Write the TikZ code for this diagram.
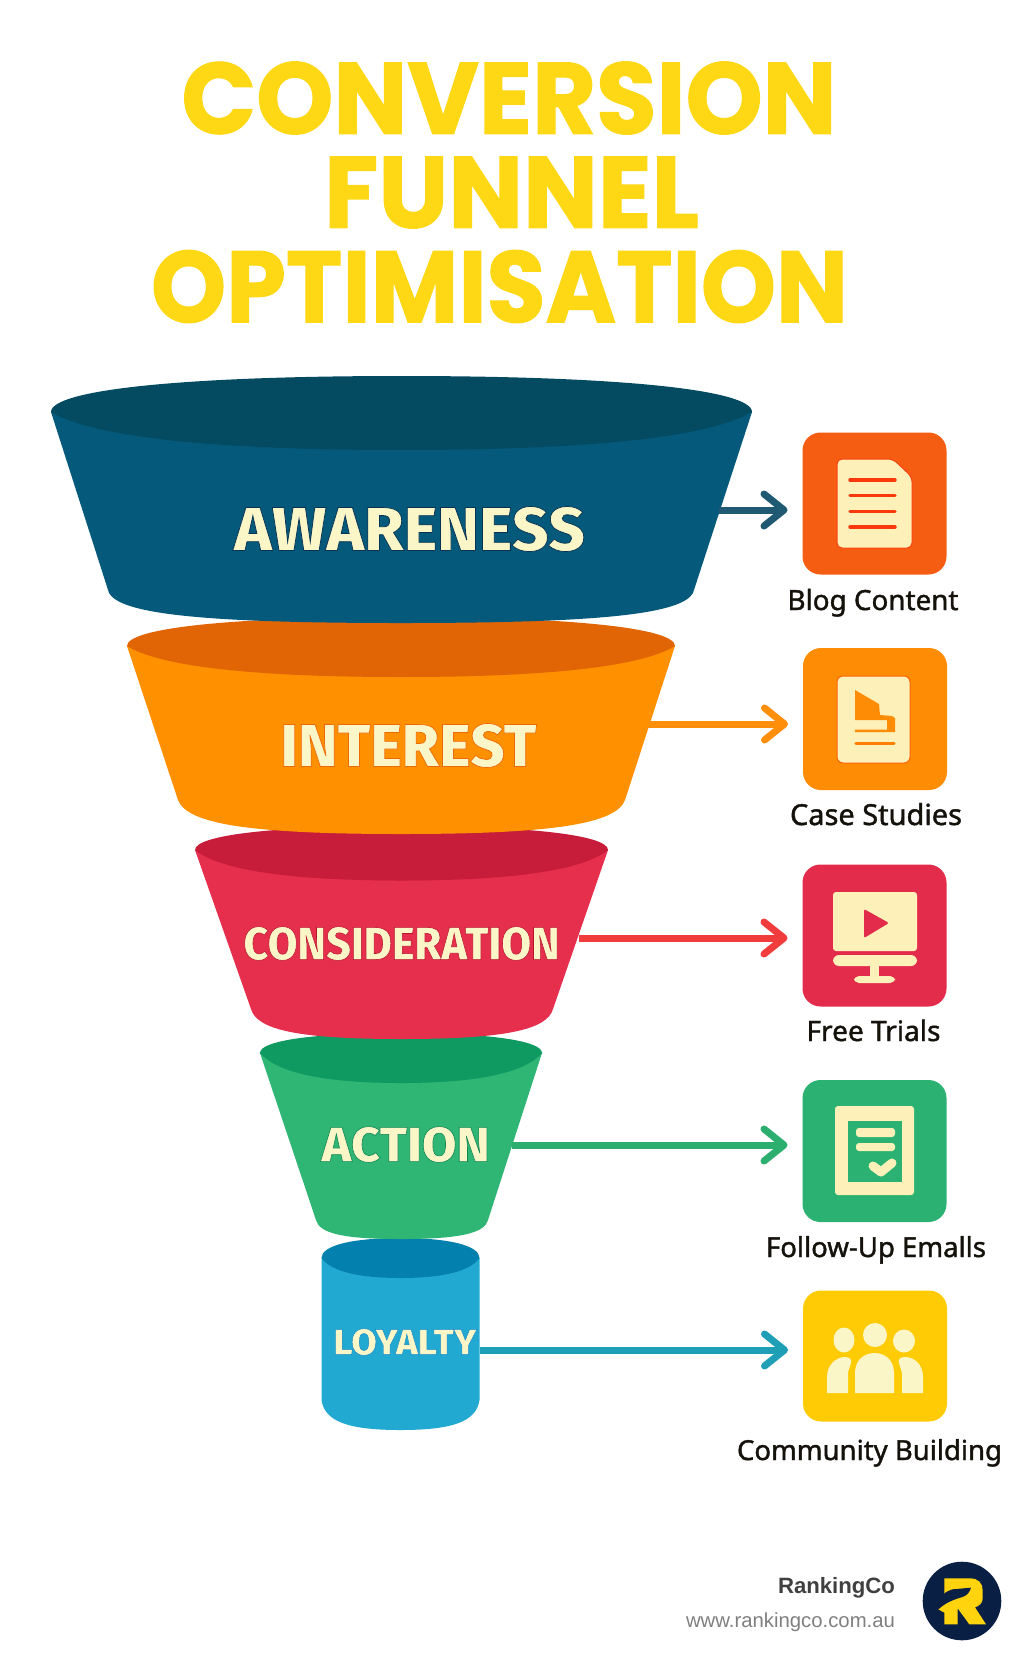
\documentclass[tikz,border=0pt]{standalone}
\usepackage{graphicx}
\usepackage{fontspec}
\usetikzlibrary{arrows.meta}
\newfontfamily\titlef[FakeBold=1.2]{Poppins}
\newfontfamily\labelf[FakeBold=1.2]{Fira Sans ExtraBold}
\newfontfamily\itemf[FakeBold=1.4]{Noto Sans}
\newfontfamily\brandf{Liberation Sans}
\newdimen\pxd \pxd=.5pt
\newcommand\strokergb[1]{\special{pdf:code #1 RG}}
\definecolor{titlec}{HTML}{FFD815}
\definecolor{cream}{HTML}{FDF0B8}
\definecolor{labelc}{HTML}{FBF6C8}
\definecolor{inkc}{HTML}{15120C}
\definecolor{fa}{HTML}{055A7C}\definecolor{fA}{HTML}{044B62}
\definecolor{fb}{HTML}{FF9000}\definecolor{fB}{HTML}{E26505}
\definecolor{fc}{HTML}{E62E4D}\definecolor{fC}{HTML}{C71C3A}
\definecolor{fd}{HTML}{2FB574}\definecolor{fD}{HTML}{0F9A62}
\definecolor{fe}{HTML}{22A9D1}\definecolor{fE}{HTML}{0480AE}
\definecolor{ara}{HTML}{1F5A72}\definecolor{arb}{HTML}{FF8E0A}
\definecolor{arc}{HTML}{F03C3C}\definecolor{ard}{HTML}{2BAE6E}
\definecolor{are}{HTML}{1F9FB5}
\definecolor{boxa}{HTML}{F55D12}\definecolor{boxb}{HTML}{FF8C05}
\definecolor{boxc}{HTML}{E32C4C}\definecolor{boxd}{HTML}{2BB272}
\definecolor{boxe}{HTML}{FFCB05}
\definecolor{navy}{HTML}{0A1F44}\definecolor{logoy}{HTML}{FFD30D}
\definecolor{brandc}{HTML}{404040}\definecolor{urlc}{HTML}{808080}
\newcommand\funnelshape[9]{%
  \pgfmathsetmacro\mx{(#1+#2)/2}\pgfmathsetmacro\W{(#2-#1)/2}
  \pgfmathsetmacro\w{(#7-#6)/2}\pgfmathsetmacro\hb{#9-#8}
  \fill[bodyc] (#1,#3) -- (#6,#8)
    .. controls ({#6+0.04*\w},{#8+0.7*\hb}) and ({\mx-0.68*\w},#9) .. (\mx,#9)
    .. controls ({\mx+0.68*\w},#9) and ({#7-0.04*\w},{#8+0.7*\hb}) .. (#7,#8)
    -- (#2,#3) -- cycle;
  \fill[rimc] (#1,#3)
    .. controls ({#1+0.0*\W},{#3-0.62*(#3-#4)}) and ({\mx-0.62*\W},#4) .. (\mx,#4)
    .. controls ({\mx+0.62*\W},#4) and ({#2-0.0*\W},{#3-0.62*(#3-#4)}) .. (#2,#3)
    .. controls ({#2-0.12*\W},{#3+0.65*(#5-#3)}) and ({\mx+0.55*\W},#5) .. (\mx,#5)
    .. controls ({\mx-0.55*\W},#5) and ({#1+0.12*\W},{#3+0.65*(#5-#3)}) .. (#1,#3) -- cycle;
}
\tikzset{
  txt/.style={inner sep=0pt,outer sep=0pt},
  funnellabel/.style={txt,text=labelc},
  titleline/.style={txt,text=titlec},
  iconbox/.style={inner sep=0pt,outer sep=0pt,rounded corners=9pt,minimum width=72pt,minimum height=71pt},
  itemlabel/.style={txt,anchor=base,text=inkc},
  flow/.style={line width=3.5pt,shorten >=7.5pt,-{Straight Barb[length=10pt,width=16pt,round]}},
  paper/.style={fill=cream},
  rule/.style={line width=1.7pt,line cap=round}
}
\begin{document}
\begin{tikzpicture}[x=.5pt,y=-.5pt]
\useasboundingbox (0,0) rectangle (1024,1666);
\fill[white] (0,0) rectangle (1024,1666);

% title
\node[titleline] (t1) at (509,98) {\resizebox{655\pxd}{72\pxd}{\titlef\bfseries CONVERSION}};
\node[titleline] (t2) at (511.5,192.5) {\resizebox{375\pxd}{71\pxd}{\titlef\bfseries FUNNEL}};
\node[titleline] (t3) at (499.5,286.5) {\resizebox{697\pxd}{72\pxd}{\titlef\bfseries OPTIMISATION}};

% funnels, bottom first
\colorlet{bodyc}{fe}\colorlet{rimc}{fE}\funnelshape{321.5}{479.5}{1258}{1238}{1278}{321.5}{479.5}{1400}{1430}
\colorlet{bodyc}{fd}\colorlet{rimc}{fD}\funnelshape{260}{542}{1053}{1033}{1083}{316}{488}{1220}{1239}
\colorlet{bodyc}{fc}\colorlet{rimc}{fC}\funnelshape{195}{608}{850}{826}{880.5}{251}{553}{1009}{1039}
\colorlet{bodyc}{fb}\colorlet{rimc}{fB}\funnelshape{127}{675}{646}{617}{677}{178}{625}{800}{834}
\colorlet{bodyc}{fa}\colorlet{rimc}{fA}\funnelshape{51}{752}{412}{376}{450}{109}{693}{593}{623}

% funnel labels
\node[funnellabel] (aw) at (409.5,529) {\resizebox{351\pxd}{44\pxd}{\strokergb{0.03 0.20 0.32}\labelf AWARENESS}};
\node[funnellabel] (in) at (408.5,745.5) {\resizebox{256\pxd}{43\pxd}{\strokergb{0.93 0.42 0.02}\labelf INTEREST}};
\node[funnellabel] (co) at (401.5,943.5) {\resizebox{316\pxd}{33\pxd}{\strokergb{0.72 0.08 0.18}\labelf CONSIDERATION}};
\node[funnellabel] (ac) at (405.5,1144.5) {\resizebox{168\pxd}{35\pxd}{\strokergb{0.06 0.52 0.33}\labelf ACTION}};
\node[funnellabel] (lo) at (405,1342) {\resizebox{143\pxd}{26\pxd}{\strokergb{0.06 0.52 0.78}\labelf LOYALTY}};

% icon boxes
\node[iconbox,fill=boxa] (b1) at (874.5,503.5) {};
\node[iconbox,fill=boxb] (b2) at (875,719) {};
\node[iconbox,fill=boxc] (b3) at (874.5,935.5) {};
\node[iconbox,fill=boxd] (b4) at (874.5,1151) {};
\node[iconbox,fill=boxe,minimum height=65.5pt] (b5) at (875,1356) {};

% connectors
\coordinate (s1) at (719,510);
\coordinate (s2) at (648,724);
\coordinate (s3) at (579,938);
\coordinate (s4) at (512,1145);
\coordinate (s5) at (480,1350);
\draw[flow,ara] (s1) -- (s1 -| b1.west);
\draw[flow,arb] (s2) -- (s2 -| b2.west);
\draw[flow,arc] (s3) -- (s3 -| b3.west);
\draw[flow,ard] (s4) -- (s4 -| b4.west);
\draw[flow,are] (s5) -- (s5 -| b5.west);

% icon 1: document
\filldraw[paper,draw=boxa!70!red,line width=.5pt,rounded corners=2.5pt] (837,459) -- (893,459) -- (912,477) -- (912,548) -- (837,548) -- cycle;
\foreach \yy in {480,495.5,511.5,527} \draw[rule,draw=boxa!60!red] (850,\yy) -- (895,\yy);

% icon 2: case study
\filldraw[paper,draw=boxb!70!red,line width=.5pt,rounded corners=3pt] (837,676) rectangle (910,763);
\fill[boxb] (855,690) -- (879,704) -- (880,715) -- (892,716) -- (895,718) -- (895,732) -- (855,732) -- (855,729.5) -- (887,729.5) -- (887,720) -- (855,720) -- cycle;
\draw[rule,draw=boxb!90!red] (856,743.5) -- (894,743.5);

% icon 3: monitor
\fill[paper,rounded corners=1.5pt] (833,892) rectangle (917,951);
\fill[boxc,rounded corners=1pt] (864,909) -- (889,923) -- (864,938) -- cycle;
\fill[paper,rounded corners=3pt] (833,955) rectangle (917,966);
\fill[paper] (870,965) rectangle (878.5,977);
\fill[paper,rounded corners=2.5pt] (854,976) rectangle (895,983);

% icon 4: form
\fill[paper,rounded corners=1.5pt] (835,1106) rectangle (914,1195);
\fill[boxd] (848,1121) rectangle (902,1182);
\fill[paper,rounded corners=1.5pt] (856,1128) rectangle (895,1137);
\fill[paper,rounded corners=1.5pt] (856,1143) rectangle (895,1151);
\draw[cream,line width=4.5pt,line cap=round,line join=round] (873,1166) -- (881,1172) -- (892,1163);

% icon 5: people
\fill[labelc] (844,1340) ellipse [x radius=10.5,y radius=12.5];
\fill[labelc] (875,1335) circle [radius=12];
\fill[labelc] (904,1341) ellipse [x radius=11,y radius=11.5];
\fill[labelc] (827,1393) -- (827,1377) .. controls (827,1365) and (836,1357) .. (845,1357) .. controls (850,1357) and (852,1360) .. (851,1363) -- (848,1372) -- (848,1393) -- cycle;
\fill[labelc] (855,1393) -- (855,1373) .. controls (855,1360) and (864,1353) .. (874.5,1353) .. controls (885,1353) and (894,1360) .. (894,1373) -- (894,1393) -- cycle;
\fill[labelc] (902,1393) -- (902,1373) -- (899,1363) .. controls (898,1359) and (900,1357) .. (905,1357) .. controls (915,1357) and (923,1365) .. (923,1377) -- (923,1393) -- cycle;

% item labels
\node[itemlabel] (l1) at (873,610) {\resizebox{171\pxd}{!}{\itemf Blog Content}};
\node[itemlabel] (l2) at (876,825) {\resizebox{172\pxd}{!}{\itemf Case Studies}};
\node[itemlabel] (l3) at (873.5,1041) {\resizebox{134\pxd}{!}{\itemf Free Trials}};
\node[itemlabel] (l4) at (876,1257) {\resizebox{220\pxd}{!}{\itemf Follow-Up Emalls}};
\node[itemlabel] (l5) at (869.5,1460) {\resizebox{265\pxd}{!}{\itemf Community Building}};

% brand
\node[txt,anchor=base east,text=brandc] (rc) at (895,1593) {\resizebox{117\pxd}{!}{\brandf\bfseries RankingCo}};
\node[txt,anchor=base east,text=urlc] (url) at (895,1627) {\resizebox{209\pxd}{!}{\brandf www.rankingco.com.au}};

% logo
\fill[navy] (962,1601) circle [radius=39.3];
\begin{scope}[shift={(910,1550)},scale=0.33333]
\fill[logoy] (103,85) -- (180,85) .. controls (205,85) and (218,100) .. (218,120) -- (218,145) .. controls (218,160) and (207,168) .. (195,172) -- (228,223) -- (178,223) -- (143,175) -- (143,223) -- (103,223) -- (103,188) -- (85,178) -- (103,160) -- cycle;
\fill[navy] (98,134) .. controls (110,125) and (118,120) .. (127,118) -- (183,113) .. controls (180,125) and (172,135) .. (160,140) .. controls (135,148) and (110,155) .. (85,178) -- (85,140) -- cycle;
\end{scope}
\end{tikzpicture}
\end{document}
